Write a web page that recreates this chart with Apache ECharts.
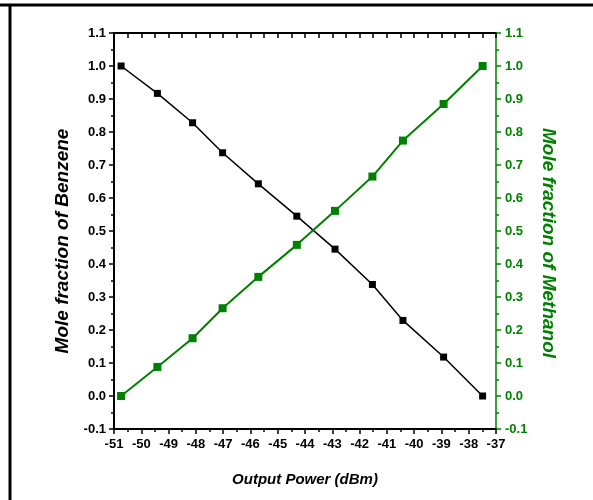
<!DOCTYPE html>
<html>
<head>
<meta charset="utf-8">
<script src="https://cdn.jsdelivr.net/npm/echarts@6/dist/echarts.min.js"></script>
<style>
  html, body { margin: 0; padding: 0; background: #fff; }
  #chart { width: 593px; height: 500px; }
</style>
</head>
<body>
<div id="chart"></div>
<script>
// output power (dBm) at each measured point
const power = [-50.74, -49.41, -48.12, -47.02, -45.71, -44.30, -42.90, -41.53, -40.41, -38.92, -37.49]
const benzene  = [1.0, 0.917, 0.828, 0.737, 0.643, 0.545, 0.445, 0.338, 0.229, 0.118, 0.0]
const methanol = [0.0, 0.088, 0.175, 0.266, 0.361, 0.458, 0.561, 0.665, 0.774, 0.885, 1.0]

const GREEN = '#008000'
const labelFont = '"Liberation Sans Narrow", "Arial Narrow", "Liberation Sans", Arial, sans-serif'
const titleFont = '"Liberation Sans", Arial, sans-serif'

const chart = echarts.init(document.getElementById('chart'))

const xBase = {
  type: 'value', min: -51, max: -37, interval: 1,
  axisLine: { show: true, onZero: false, lineStyle: { color: '#000', width: 2 } },
  splitLine: { show: false },
  minorTick: { show: true, splitNumber: 2, length: 3, lineStyle: { color: '#000', width: 1.5 } },
}
const yBase = {
  type: 'value', min: -0.1, max: 1.1, interval: 0.1,
  splitLine: { show: false },
}

chart.setOption({
  animation: false,
  grid: { left: 114, right: 97, top: 33, bottom: 71 },
  xAxis: [
    {
      ...xBase, position: 'bottom',
      axisTick: { show: true, length: 5, lineStyle: { color: '#000', width: 1.5 } },
      axisLabel: { color: '#000', fontFamily: labelFont, fontWeight: 'bold', fontSize: 13, margin: 9,
        formatter: v => String(v) },
      name: 'Output Power (dBm)', nameLocation: 'middle', nameGap: 43,
      nameTextStyle: { color: '#000', fontFamily: titleFont, fontWeight: 'bold', fontStyle: 'italic', fontSize: 15 },
    },
    {
      ...xBase, position: 'top',
      axisTick: { show: true, inside: true, length: 5, lineStyle: { color: '#000', width: 1.5 } },
      minorTick: { show: true, splitNumber: 2, length: 5, lineStyle: { color: '#000', width: 1.5 } },
      axisLabel: { show: false },
    },
  ],
  yAxis: [
    {
      ...yBase, position: 'left',
      axisLine: { show: true, onZero: false, lineStyle: { color: '#000', width: 2 } },
      axisTick: { show: true, length: 5, lineStyle: { color: '#000', width: 1.5 } },
      minorTick: { show: true, splitNumber: 2, length: 3, lineStyle: { color: '#000', width: 1.5 } },
      axisLabel: { color: '#000', fontFamily: labelFont, fontWeight: 'bold', fontSize: 13, margin: 8,
        formatter: v => v.toFixed(1) },
      name: 'Mole fraction of Benzene', nameLocation: 'middle', nameGap: 39,
      nameTextStyle: { color: '#000', fontFamily: titleFont, fontWeight: 'bold', fontStyle: 'italic', fontSize: 19,
        padding: [0, 20, 0, 0] },
    },
    {
      ...yBase, position: 'right',
      axisLine: { show: true, onZero: false, lineStyle: { color: GREEN, width: 1.5 } },
      axisTick: { show: true, length: 5, lineStyle: { color: GREEN, width: 1.5 } },
      minorTick: { show: true, splitNumber: 2, length: 3, lineStyle: { color: GREEN, width: 1.5 } },
      axisLabel: { color: GREEN, fontFamily: labelFont, fontWeight: 'bold', fontSize: 13, margin: 9,
        formatter: v => v.toFixed(1) },
      name: 'Mole fraction of Methanol', nameLocation: 'middle', nameGap: 36, nameRotate: -90,
      nameTextStyle: { color: GREEN, fontFamily: titleFont, fontWeight: 'bold', fontStyle: 'italic', fontSize: 19,
        padding: [0, 0, 0, 24] },
    },
  ],
  graphic: [
    { type: 'line', shape: { x1: 0, y1: 5, x2: 593, y2: 5 }, style: { stroke: '#000', lineWidth: 3 } },
    { type: 'line', shape: { x1: 10, y1: 5, x2: 10, y2: 500 }, style: { stroke: '#000', lineWidth: 3 } },
  ],
  series: [
    {
      name: 'Benzene', type: 'line', xAxisIndex: 0, yAxisIndex: 0,
      data: power.map((p, i) => [p, benzene[i]]),
      symbol: 'rect', symbolSize: 7,
      lineStyle: { color: '#000', width: 1.5 },
      itemStyle: { color: '#000' },
    },
    {
      name: 'Methanol', type: 'line', xAxisIndex: 0, yAxisIndex: 1,
      data: power.map((p, i) => [p, methanol[i]]),
      symbol: 'rect', symbolSize: 8,
      lineStyle: { color: GREEN, width: 2 },
      itemStyle: { color: GREEN },
    },
  ],
})
</script>
</body>
</html>
